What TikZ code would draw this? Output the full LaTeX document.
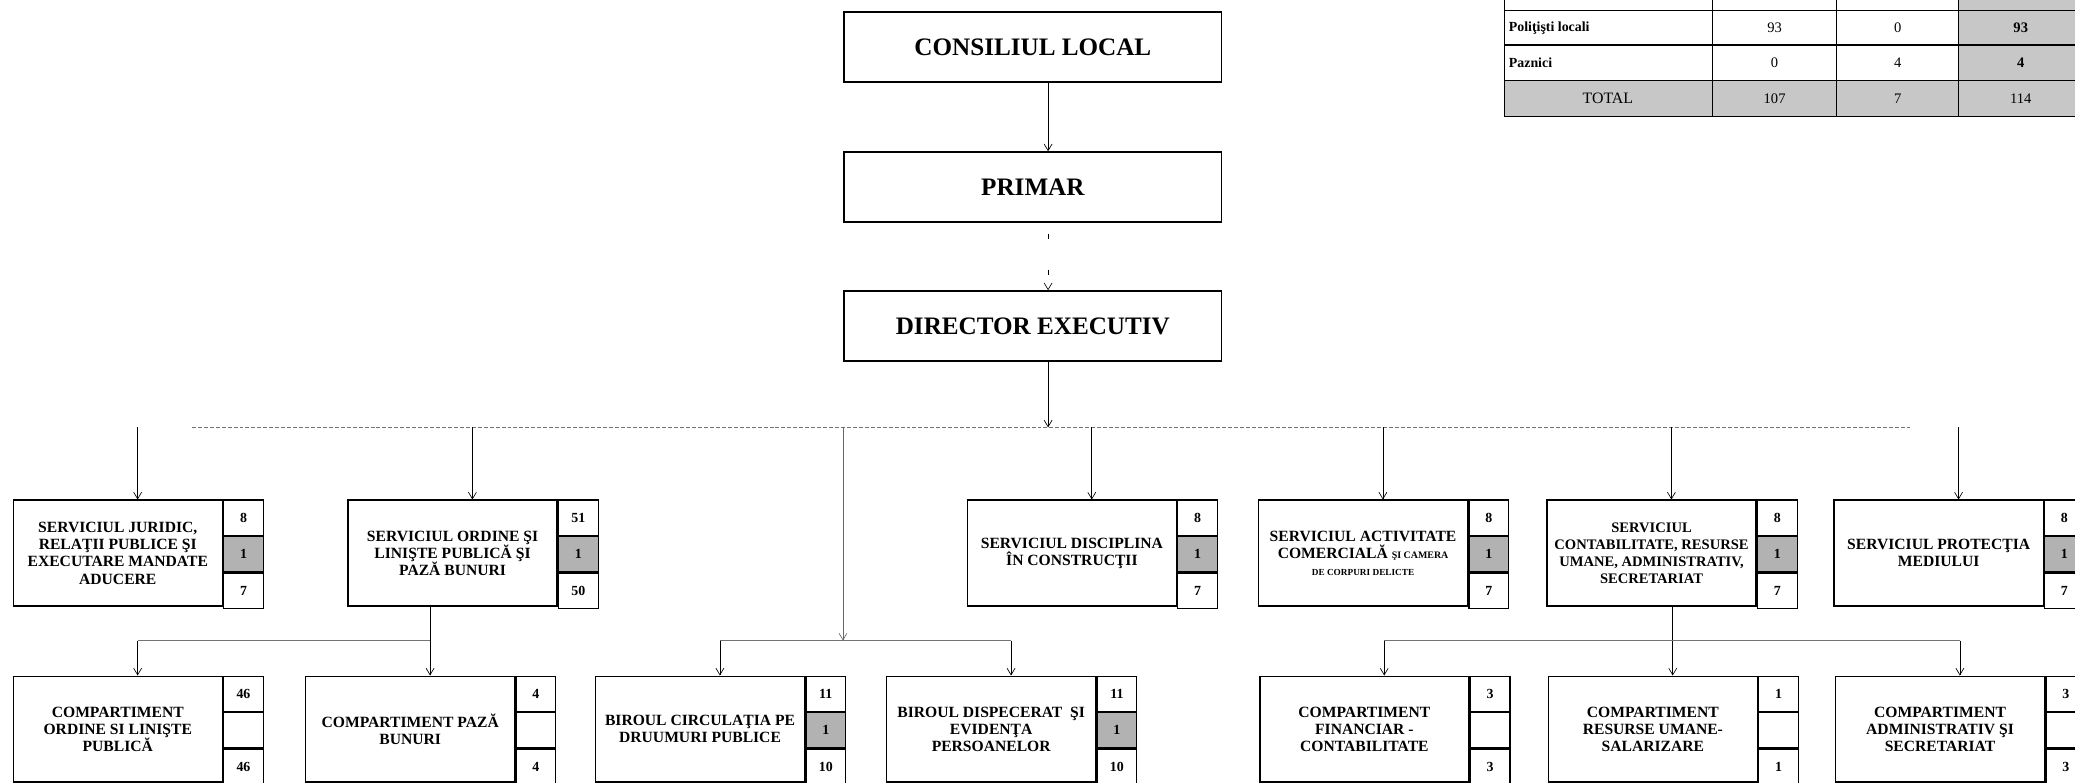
\documentclass[tikz,border=0pt]{standalone}
\usepackage{fontspec}
\setmainfont{Liberation Serif}
\usetikzlibrary{arrows.meta}

\begin{document}
\begin{tikzpicture}[x=1pt, y=-1pt, >={Straight Barb[length=5pt,width=6pt]},
    headbox/.style={draw, line width=1.4pt, minimum width=285pt, minimum height=53pt,
      font=\fontsize{19}{22}\selectfont\bfseries},
    unitbox/.style={draw, line width=1.1pt, minimum width=158pt, minimum height=80pt,
      align=center, inner sep=1pt, font=\fontsize{11.8}{13}\selectfont\bfseries},
    cellbox/.style={draw, line width=0.9pt, minimum width=30pt, minimum height=26.67pt,
      inner sep=0pt, anchor=north west, font=\fontsize{10.5}{12}\selectfont\bfseries},
    grayed/.style={fill=black!30},
    nofill/.style={},
    link/.style={line width=0.5pt},
    bus/.style={line width=0.8pt, black!55},
    tabtext/.style={inner sep=1pt, font=\fontsize{11}{13}\selectfont}]
  \useasboundingbox (0,0) rectangle (1568,591);

  % table, top right
  \fill[black!22] (1480,-19) rectangle (1575,61);
  \fill[black!22] (1137,61) rectangle (1575,88);
  \draw[line width=1pt] (1137,-19) rectangle (1575,88);
  \foreach \y in {8,34,61} \draw[line width=0.9pt] (1137,\y) -- (1575,\y);
  \foreach \x in {1294,1388,1480} \draw[line width=0.9pt] (\x,-19) -- (\x,88);
  \node[tabtext, anchor=west, font=\fontsize{10.5}{12}\selectfont\bfseries] (pol) at (1139,21) {Poliţişti locali};
  \node[tabtext] (pol1) at (1341,21) {93};
  \node[tabtext] (pol2) at (1434,21) {0};
  \node[tabtext, font=\fontsize{11}{13}\selectfont\bfseries] (pol3) at (1527,21) {93};
  \node[tabtext, anchor=west, font=\fontsize{10.5}{12}\selectfont\bfseries] (pzn) at (1139,47.5) {Paznici};
  \node[tabtext] (pzn1) at (1341,47.5) {0};
  \node[tabtext] (pzn2) at (1434,47.5) {4};
  \node[tabtext, font=\fontsize{11}{13}\selectfont\bfseries] (pzn3) at (1527,47.5) {4};
  \node[tabtext, font=\fontsize{12}{14}\selectfont] (tot) at (1215,74.5) {TOTAL};
  \node[tabtext] (tot1) at (1341,74.5) {107};
  \node[tabtext] (tot2) at (1434,74.5) {7};
  \node[tabtext] (tot3) at (1527,74.5) {114};

  % top of the chart
  \node[headbox] (cl) at (780.5,35.5) {CONSILIUL LOCAL};
  \node[headbox] (pr) at (780.5,141.5) {PRIMAR};
  \node[headbox] (de) at (780.5,246.5) {DIRECTOR EXECUTIV};

  % services
  \node[unitbox] (jur) at (89,418) {SERVICIUL JURIDIC,\\ RELAŢII PUBLICE ŞI\\ EXECUTARE MANDATE\\ ADUCERE};
  \node[unitbox] (ord) at (342,418) {SERVICIUL ORDINE ŞI\\ LINIŞTE PUBLICĂ ŞI\\ PAZĂ BUNURI};
  \node[unitbox] (dis) at (810,418) {SERVICIUL DISCIPLINA\\ ÎN CONSTRUCŢII};
  \node[unitbox] (com) at (1030,418) {SERVICIUL ACTIVITATE\\ COMERCIALĂ {\fontsize{7.5}{8}\selectfont ŞI CAMERA}\\ {\fontsize{7}{8}\selectfont DE CORPURI DELICTE}};
  \node[unitbox, font=\fontsize{11}{13}\selectfont\bfseries] (con) at (1248,418) {SERVICIUL\\ CONTABILITATE, RESURSE\\ UMANE, ADMINISTRATIV,\\ SECRETARIAT};
  \node[unitbox] (pro) at (1465,418) {SERVICIUL PROTECŢIA\\ MEDIULUI};

  % compartments and offices
  \node[unitbox] (col) at (89,551) {COMPARTIMENT\\ ORDINE SI LINIŞTE\\ PUBLICĂ};
  \node[unitbox] (paz) at (310,551) {COMPARTIMENT PAZĂ\\ BUNURI};
  \node[unitbox] (cir) at (529,551) {BIROUL CIRCULAŢIA PE\\ DRUUMURI PUBLICE};
  \node[unitbox] (dsp) at (749,551) {BIROUL DISPECERAT~ ŞI\\ EVIDENŢA\\ PERSOANELOR};
  \node[unitbox] (fin) at (1031,551) {COMPARTIMENT\\ FINANCIAR -\\ CONTABILITATE};
  \node[unitbox] (rum) at (1249,551) {COMPARTIMENT\\ RESURSE UMANE-\\ SALARIZARE};
  \node[unitbox] (adm) at (1466,551) {COMPARTIMENT\\ ADMINISTRATIV ŞI\\ SECRETARIAT};

  % staff numbers beside each box
  \foreach \u/\a/\b/\c/\g in {jur/8/1/7/grayed, ord/51/1/50/grayed, dis/8/1/7/grayed,
      com/8/1/7/grayed, con/8/1/7/grayed, pro/8/1/7/grayed, col/46//46/nofill,
      paz/4//4/nofill, cir/11/1/10/grayed, dsp/11/1/10/grayed, fin/3//3/nofill,
      rum/1//1/nofill, adm/3//3/nofill} {
    \node[cellbox] (\u1) at (\u.north east) {\a};
    \node[cellbox, \g] (\u2) at (\u1.south west) {\b};
    \node[cellbox] (\u3) at (\u2.south west) {\c};
  }

  % connectors
  \coordinate (bw) at (145,323);
  \coordinate (be) at (1443,323);
  \coordinate (bm) at (637,484);
  \draw[link, ->] ([xshift=11.5pt]cl.south) -- ([xshift=11.5pt]pr.north);
  \draw[link, ->, dash pattern=on 4pt off 23pt, dash phase=19pt] ([xshift=11.5pt]pr.south) -- ([xshift=11.5pt]de.north);
  \draw[link, ->] ([xshift=11.5pt]de.south) -- ([xshift=11.5pt]de.south |- bw);
  \draw[bus, dash pattern=on 3pt off 1.5pt] (bw) -- (be);
  \foreach \u in {jur,ord,dis,com,con,pro}
    \draw[link, ->] ([xshift=15pt]\u.north |- bw) -- ([xshift=15pt]\u.north);
  \draw[link, black!60, ->] (bm |- bw) -- (bm);
  \draw[link] ([xshift=15pt]paz.north |- ord.south) -- ([xshift=15pt]paz.north |- bm);
  \draw[link] ([xshift=15pt]rum.north |- con.south) -- ([xshift=15pt]rum.north |- bm);
  \draw[bus] ([xshift=15pt]col.north |- bm) -- ([xshift=15pt]paz.north |- bm);
  \draw[bus] ([xshift=15pt]cir.north |- bm) -- ([xshift=15pt]dsp.north |- bm);
  \draw[bus] ([xshift=15pt]fin.north |- bm) -- ([xshift=15pt]adm.north |- bm);
  \foreach \u in {col,paz,cir,dsp,fin,rum,adm}
    \draw[link, ->] ([xshift=15pt]\u.north |- bm) -- ([xshift=15pt]\u.north);
\end{tikzpicture}
\end{document}
